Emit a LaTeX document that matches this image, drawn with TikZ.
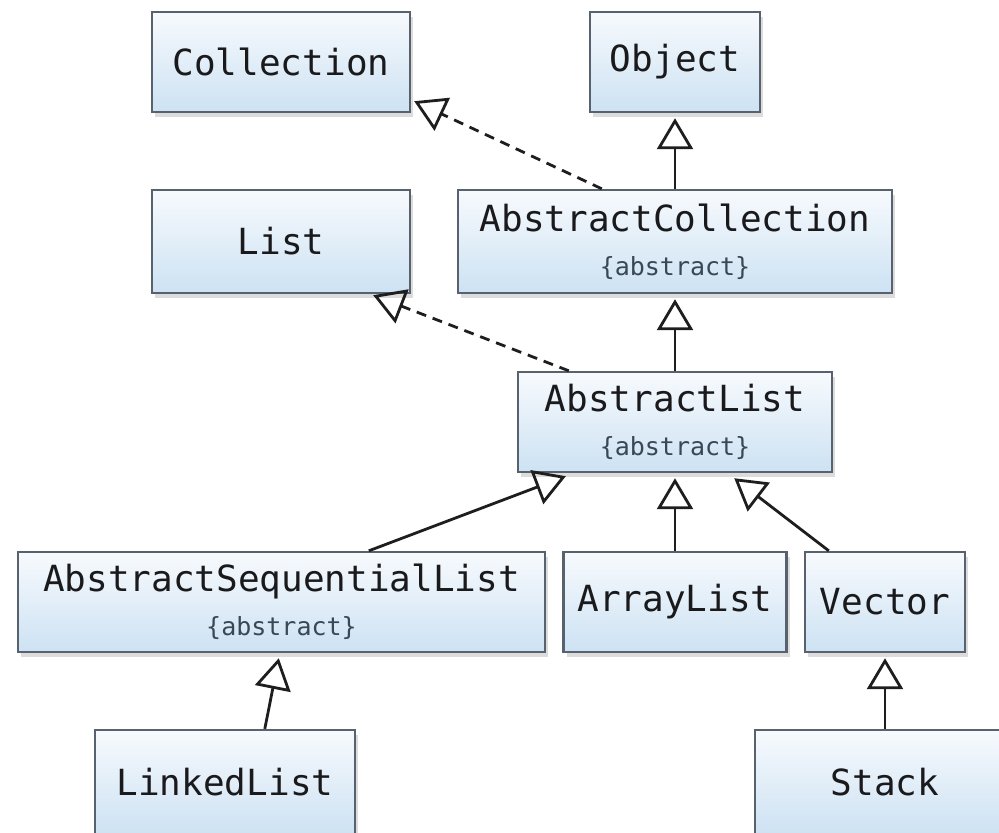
\documentclass[tikz,border=0pt]{standalone}
\usepackage{fontspec}
\newfontfamily\umlfont{DejaVu Sans Mono}
\usetikzlibrary{arrows.meta,shadows,calc}

\definecolor{boxtop}{RGB}{247,250,253}
\definecolor{boxbot}{RGB}{205,226,243}
\definecolor{boxline}{RGB}{88,98,110}
\definecolor{umltext}{RGB}{26,26,28}
\definecolor{stereotext}{RGB}{58,72,86}
\definecolor{lnk}{RGB}{30,30,30}

\newcommand{\stereo}[1]{{\fontsize{12.5}{14}\selectfont\color{stereotext}\{#1\}}}

\tikzset{
  cls/.style={draw=boxline, line width=1.2pt, top color=boxtop, bottom color=boxbot,
    minimum height=50pt, inner sep=0pt, align=center, text=umltext,
    font=\umlfont\fontsize{18}{21}\selectfont,
    drop shadow={opacity=0.28, shadow xshift=1.5pt, shadow yshift=-2.5pt}},
  generalize/.style={draw=lnk, line width=1.4pt,
    -{Triangle[open, length=15.5pt, width=18pt, line width=1.4pt]}},
  realize/.style={generalize, dash pattern=on 5pt off 3.5pt},
}

\begin{document}
\begin{tikzpicture}[x=0.5pt,y=-0.5pt]
        \useasboundingbox (0,0) rectangle (999,832);
        \clip (0,0) rectangle (999,832);
        % top row
        \node[cls, minimum width=129pt] (collection) at (281,62) {Collection};
        \node[cls, minimum width=85pt] (object) at (675,62) {Object};
        % second row
        \node[cls, minimum width=129pt, minimum height=51.5pt] (list) at (281,241.5) {List};
        \node[cls, minimum width=217pt, minimum height=51.5pt] (abscoll) at (675,241.5) {AbstractCollection\\[1pt]\stereo{abstract}};
        % third row
        \node[cls, minimum width=157pt] (abslist) at (675,422) {AbstractList\\[1pt]\stereo{abstract}};
        % fourth row
        \node[cls, minimum width=263.5pt] (asl) at (281.5,602) {AbstractSequentialList\\[1pt]\stereo{abstract}};
        \node[cls, minimum width=111.5pt] (arraylist) at (675,602) {ArrayList};
        \node[cls, minimum width=80pt] (vector) at (885,602) {Vector};
        % bottom row
        \node[cls, minimum width=130pt, minimum height=52pt] (linked) at (225,782) {LinkedList};
        \node[cls, minimum width=130pt, minimum height=52pt] (stack) at (885,782) {Stack};

        % generalizations
        \draw[generalize, shorten >=2.5pt] (abscoll.north) -- (object.south);
        \draw[generalize, shorten >=2.5pt] (abslist.north) -- (abscoll.south);
        \draw[generalize, shorten >=2.5pt] (arraylist.north) -- (abslist.south);
        \draw[generalize, shorten >=2.5pt] (stack.north) -- (vector.south);
        \draw[generalize] ($(asl.north west)+(352,0)$) -- ($(abslist.south west)+(49,3)$);
        \draw[generalize] ($(vector.north west)+(25,0)$) -- ($(abslist.south east)+(-99,5)$);
        \draw[generalize] ($(linked.north west)+(171,0)$) -- ($(asl.south west)+(262,5)$);
        % realizations
        \draw[realize] ($(abscoll.north west)+(145,0)$) -- ($(collection.south east)+(3,-12)$);
        \draw[realize] ($(abslist.north west)+(52,0)$) -- ($(list.south east)+(-38,1)$);
\end{tikzpicture}
\end{document}
